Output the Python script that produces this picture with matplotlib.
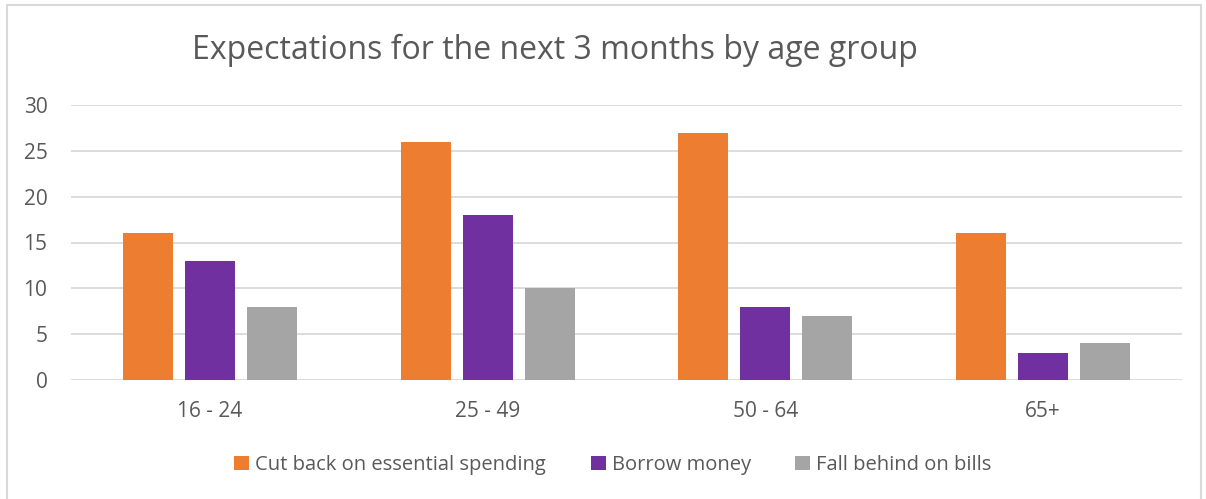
import numpy as np
import matplotlib.pyplot as plt
from matplotlib.patches import Rectangle

groups = ['16 - 24', '25 - 49', '50 - 64', '65+']
series = ['Cut back on essential spending', 'Borrow money', 'Fall behind on bills']
cut_back = [16, 26, 27, 16]
borrow = [13, 18, 8, 3]
fall_behind = [8, 10, 7, 4]
colors = ['#ED7D31', '#7030A0', '#A5A5A5']

plt.rcParams['font.family'] = ['Open Sans', 'DejaVu Sans']
text_col = '#595959'

fig = plt.figure(figsize=(12.06, 4.99), dpi=100)
ax = fig.add_axes([71 / 1206, 1 - 380 / 499, 1111 / 1206, 275 / 499])

x = np.arange(len(groups))
w = 0.18
step = 0.223
for i, (vals, name) in enumerate(zip([cut_back, borrow, fall_behind], series)):
    ax.bar(x + (i - 1) * step, vals, w, color=colors[i], label=name, zorder=3)

ax.set_xlim(-0.5, len(groups) - 0.5)
ax.set_ylim(0, 30)
ax.set_yticks(range(0, 31, 5))
ax.set_xticks(x)
ax.set_xticklabels(groups)
ax.grid(axis='y', color='#D9D9D9', linewidth=1.3, zorder=0)
for s in ax.spines.values():
    s.set_visible(False)
ax.tick_params(axis='both', length=0, labelsize=15, colors=text_col)
ax.tick_params(axis='y', pad=17)
ax.tick_params(axis='x', pad=15)

fig.text(0.46, 1 - 50 / 499, 'Expectations for the next 3 months by age group',
         ha='center', va='center', fontsize=23, color=text_col)

fig.legend(loc='center', bbox_to_anchor=(613 / 1206, 1 - 465 / 499), ncol=3, frameon=False,
           fontsize=14.5, labelcolor=text_col, handlelength=0.75, handleheight=0.75,
           handletextpad=0.3, columnspacing=2.2)

fig.patches.append(Rectangle((7 / 1206, -0.01), 1194 / 1206, 1 - 5 / 499 + 0.01,
                             transform=fig.transFigure, fill=False,
                             edgecolor='#D9D9D9', linewidth=1.5))

fig.savefig('out.png', dpi=100)
